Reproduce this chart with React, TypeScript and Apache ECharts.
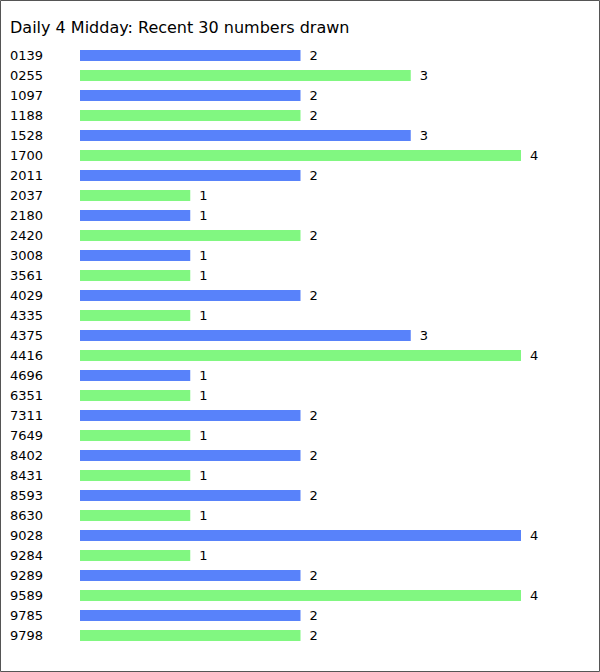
import React, { useEffect, useRef } from "react";
import * as echarts from "echarts";

const categories = [
  "0139", "0255", "1097", "1188", "1528", "1700", "2011", "2037", "2180", "2420",
  "3008", "3561", "4029", "4335", "4375", "4416", "4696", "6351", "7311", "7649",
  "8402", "8431", "8593", "8630", "9028", "9284", "9289", "9589", "9785", "9798",
];
const counts = [
  2, 3, 2, 2, 3, 4, 2, 1, 1, 2,
  1, 1, 2, 1, 3, 4, 1, 1, 2, 1,
  2, 1, 2, 1, 4, 1, 2, 4, 2, 2,
];
const barColors = ["#5882FA", "#81F781"];
const titleText = "Daily 4 Midday: Recent 30 numbers drawn";

const FONT = "DejaVu Sans";

export default function App() {
  const ref = useRef<HTMLDivElement>(null);
  useEffect(() => {
    document.body.style.margin = "0";
    const chart = echarts.init(ref.current!, null, { renderer: "svg" });
    chart.setOption({
      animation: false,
      backgroundColor: "#fff",
      title: {
        text: titleText,
        left: 10,
        top: 19,
        padding: 0,
        textStyle: { fontFamily: FONT, fontSize: 16, fontWeight: "normal", color: "#000" },
      },
      graphic: [
        {
          type: "rect",
          shape: { x: 0.5, y: 0.5, width: 599, height: 671 },
          style: { fill: "none", stroke: "#555", lineWidth: 1 },
          silent: true,
        },
      ],
      grid: { left: 80, top: 45.5, width: 441, height: 600 },
      xAxis: {
        type: "value",
        min: 0,
        max: 4,
        show: false,
      },
      yAxis: {
        type: "category",
        data: categories,
        inverse: true,
        axisLine: { show: false },
        axisTick: { show: false },
        splitLine: { show: false },
        axisLabel: {
          align: "left",
          margin: 70,
          fontFamily: FONT,
          fontSize: 13,
          color: "#000",
        },
      },
      series: [
        {
          type: "bar",
          data: counts,
          barWidth: 11,
          itemStyle: {
            color: (p: any) => barColors[p.dataIndex % 2],
          },
          label: {
            show: true,
            position: "right",
            distance: 9,
            fontFamily: FONT,
            fontSize: 13,
            color: "#000",
          },
        },
      ],
    });
    return () => chart.dispose();
  }, []);
  return <div ref={ref} style={{ width: 600, height: 672 }} />;
}
